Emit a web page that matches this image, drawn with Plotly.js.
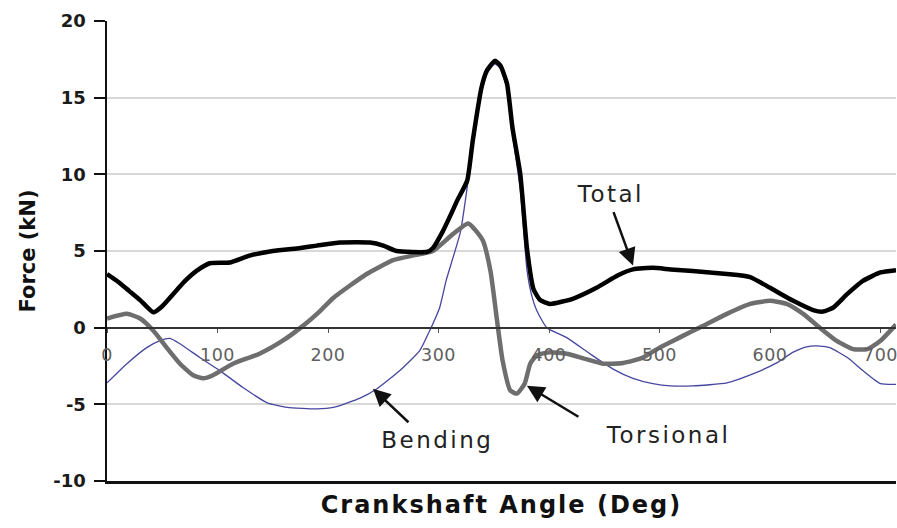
<!DOCTYPE html>
<html>
<head>
<meta charset="utf-8">
<script src="https://cdn.plot.ly/plotly-3.0.1.min.js"></script>
<style>
html,body{margin:0;padding:0;background:#fff;}
#chart{width:897px;height:528px;}
#chart .annotation-text{letter-spacing:2.5px;}
#chart .x2title{letter-spacing:2px;}
#chart .xtick text{letter-spacing:0.5px;}
</style>
</head>
<body>
<div id="chart"></div>
<script>
// Crankshaft angle (deg) and force (kN)
const totalAngle = [0, 10, 20, 30, 42, 50, 60, 70, 81, 93, 111, 129, 150, 175, 190, 211, 238, 250, 262, 290, 295, 304, 310, 317, 326, 331, 339, 344, 351, 356, 362, 367, 374, 380, 386, 392, 401, 422, 443, 462, 476, 494, 510, 530, 561, 582, 600, 621, 639, 648, 657, 670, 684, 700, 714];
const totalForce = [3.5, 3.0, 2.4, 1.8, 1.0, 1.4, 2.2, 3.0, 3.7, 4.2, 4.25, 4.7, 5.0, 5.2, 5.35, 5.55, 5.55, 5.35, 5.0, 4.95, 5.2, 6.3, 7.2, 8.3, 9.6, 12.2, 15.7, 16.8, 17.4, 17.1, 15.9, 13.0, 10.0, 5.2, 2.5, 1.8, 1.55, 1.9, 2.6, 3.4, 3.8, 3.9, 3.8, 3.7, 3.5, 3.3, 2.6, 1.75, 1.15, 1.05, 1.3, 2.2, 3.05, 3.6, 3.75];

const torsAngle = [0, 18, 30, 42, 54, 66, 78, 87, 96, 114, 138, 159, 177, 193, 205, 235, 259, 283, 295, 313, 327, 340, 347, 353, 358, 365, 371, 378, 383, 389, 401, 416, 431, 449, 467, 485, 500, 518, 539, 561, 582, 600, 615, 630, 645, 660, 675, 688, 700, 714];
const torsForce = [0.6, 0.9, 0.6, -0.2, -1.3, -2.35, -3.1, -3.3, -3.1, -2.35, -1.7, -0.85, 0.1, 1.1, 1.95, 3.5, 4.4, 4.8, 5.0, 6.1, 6.8, 5.7, 3.7, 0.45, -2.15, -4.1, -4.3, -3.65, -2.35, -1.8, -1.6, -1.7, -2.0, -2.35, -2.3, -1.95, -1.3, -0.65, 0.1, 0.9, 1.55, 1.75, 1.55, 0.9, 0.0, -0.85, -1.4, -1.4, -0.85, 0.2];

const bendAngle = [0, 18, 36, 48, 57, 66, 84, 102, 123, 145, 163, 190, 205, 229, 244, 265, 283, 292, 301, 307, 320, 331, 339, 344, 351, 356, 362, 367, 374, 380, 384, 389, 398, 416, 437, 458, 476, 494, 510, 530, 561, 585, 606, 621, 633, 645, 654, 670, 684, 700, 714];
const bendForce = [-3.6, -2.35, -1.3, -0.85, -0.7, -1.05, -1.95, -2.8, -3.9, -4.9, -5.2, -5.3, -5.2, -4.6, -4.0, -2.8, -1.5, -0.2, 1.3, 3.1, 6.3, 11.8, 15.4, 16.6, 17.2, 16.9, 15.6, 12.6, 9.0, 3.8, 2.2, 1.1, 0.0, -0.65, -1.7, -2.7, -3.3, -3.65, -3.8, -3.8, -3.6, -3.0, -2.3, -1.6, -1.25, -1.2, -1.3, -1.95, -2.8, -3.65, -3.7];

const xTicks = [0, 100, 200, 300, 400, 500, 600, 700];
const yTicks = [-10, -5, 0, 5, 10, 15, 20];

const FONT = 'DejaVu Sans, Verdana, sans-serif';

const traces = [
  {x: bendAngle, y: bendForce, type: 'scatter', mode: 'lines', name: 'Bending',
   line: {color: '#4646a0', width: 1.3, shape: 'spline', smoothing: 0.5}, xaxis: 'x', yaxis: 'y'},
  {x: torsAngle, y: torsForce, type: 'scatter', mode: 'lines', name: 'Torsional',
   line: {color: '#6e6e6e', width: 4.5, shape: 'spline', smoothing: 0.5}, xaxis: 'x', yaxis: 'y'},
  {x: totalAngle, y: totalForce, type: 'scatter', mode: 'lines', name: 'Total',
   line: {color: '#000000', width: 4.5, shape: 'spline', smoothing: 0.5}, xaxis: 'x2', yaxis: 'y'}
];

const arrowCommon = {xref: 'x', yref: 'y', showarrow: true, arrowhead: 2, arrowsize: 1.4,
  arrowwidth: 2.5, arrowcolor: '#111', text: '', standoff: 0, startstandoff: 0};
const textCommon = {xref: 'x', yref: 'y', showarrow: false, font: {family: FONT, size: 23, color: '#222'}};

const layout = {
  width: 897, height: 528,
  margin: {l: 107, r: 1, t: 21, b: 47},
  paper_bgcolor: '#ffffff', plot_bgcolor: '#ffffff',
  showlegend: false,
  xaxis: {
    range: [0, 714], anchor: 'free', position: 1/3,
    tickvals: xTicks, ticktext: xTicks.map(String),
    ticks: 'outside', ticklen: 4, tickwidth: 1, tickcolor: '#555',
    ticklabelstandoff: 7, ticklabeloverflow: 'allow',
    tickfont: {family: FONT, size: 17.5, color: '#5e5e5e'},
    showline: true, linecolor: '#333', linewidth: 2,
    showgrid: false, zeroline: false
  },
  xaxis2: {
    range: [0, 714], overlaying: 'x', anchor: 'y', side: 'bottom',
    showline: true, linecolor: '#111', linewidth: 2.5,
    ticks: '', showticklabels: false, showgrid: false, zeroline: false,
    title: {text: 'Crankshaft Angle (Deg)', standoff: 14,
            font: {family: FONT, size: 24, color: '#111', weight: 'bold'}}
  },
  yaxis: {
    range: [-10, 20], tickvals: yTicks, ticktext: yTicks.map(String),
    ticks: 'outside', ticklen: 11, tickwidth: 2, tickcolor: '#111',
    ticklabelstandoff: 4,
    tickfont: {family: FONT, size: 18, color: '#1a1a1a', weight: 'bold'},
    showline: true, linecolor: '#111', linewidth: 2.5,
    showgrid: true, gridcolor: '#d8d8d8', gridwidth: 2,
    zeroline: false,
    title: {text: 'Force (kN)', standoff: 12,
            font: {family: FONT, size: 21, color: '#111', weight: 'bold'}}
  },
  annotations: [
    Object.assign({}, textCommon, {x: 456, y: 8.7, text: 'Total'}),
    Object.assign({}, textCommon, {x: 299.5, y: -7.3, text: 'Bending'}),
    Object.assign({}, textCommon, {x: 507.7, y: -7.0, text: 'Torsional'}),
    Object.assign({}, arrowCommon, {x: 476, y: 4.05, ax: -20, ay: -55}),
    Object.assign({}, arrowCommon, {x: 240.7, y: -3.98, ax: 37, ay: 35}),
    Object.assign({}, arrowCommon, {x: 380, y: -3.78, ax: 53, ay: 32})
  ]
};

Plotly.newPlot('chart', traces, layout, {displayModeBar: false, staticPlot: true});
</script>
</body>
</html>
